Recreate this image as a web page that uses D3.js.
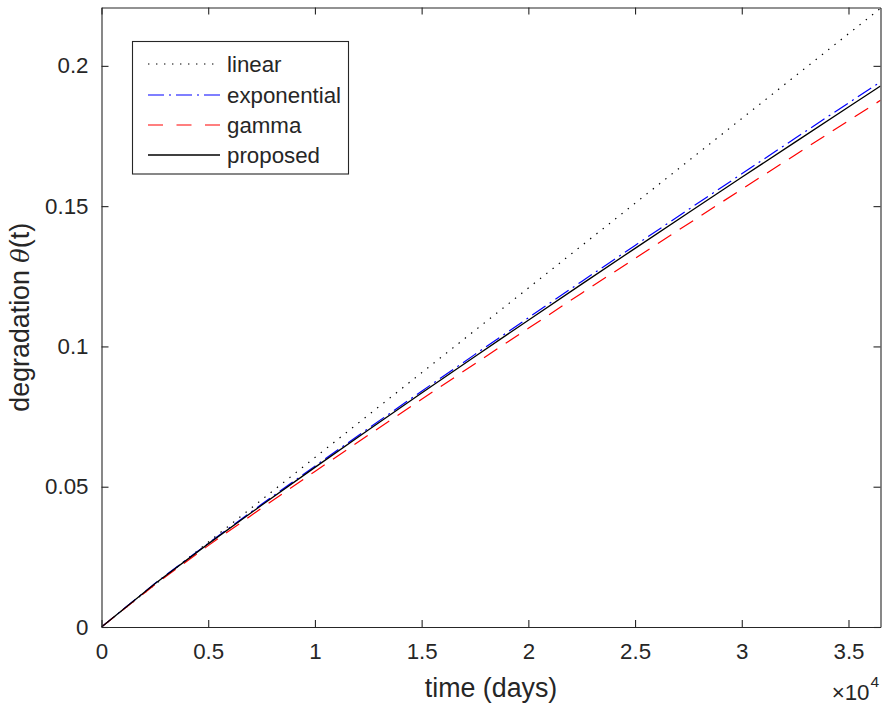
<!DOCTYPE html>
<html>
<head>
<meta charset="utf-8">
<script src="https://cdn.jsdelivr.net/npm/d3@7"></script>
<style>
  html, body { margin: 0; padding: 0; background: #fff; }
  svg { display: block; font-family: "Liberation Sans", Arial, Helvetica, sans-serif; }
</style>
</head>
<body>
<svg id="chart" width="883" height="706"></svg>
<script>
// time in days
const days = [0, 2500, 5000, 7500, 10000, 12500, 15000, 17500, 20000, 22500, 25000, 27500, 30000, 32500, 35000, 36500];

// degradation theta(t) for each model
const linearVals      = [0, 0.01510, 0.03021, 0.04531, 0.06041, 0.07551, 0.09062, 0.10572, 0.12082, 0.13592, 0.15103, 0.16613, 0.18123, 0.19634, 0.21144, 0.2205];
const exponentialVals = [0, 0.01552, 0.02985, 0.04372, 0.05734, 0.07077, 0.08404, 0.09717, 0.11021, 0.12317, 0.13601, 0.14880, 0.16152, 0.17418, 0.18677, 0.1943];
const gammaVals       = [0, 0.01510, 0.02900, 0.04237, 0.05545, 0.06838, 0.08117, 0.09386, 0.10645, 0.11898, 0.13138, 0.14374, 0.15603, 0.16826, 0.18042, 0.1877];
const proposedVals    = [0, 0.01540, 0.02962, 0.04338, 0.05690, 0.07022, 0.08339, 0.09642, 0.10936, 0.12222, 0.13496, 0.14765, 0.16027, 0.17283, 0.18532, 0.1928];

const seriesNames = ["linear", "exponential", "gamma", "proposed"];

const xTicks = [0, 5000, 10000, 15000, 20000, 25000, 30000, 35000];
const xTickLabels = ["0", "0.5", "1", "1.5", "2", "2.5", "3", "3.5"];
const yTicks = [0, 0.05, 0.1, 0.15, 0.2];
const yTickLabels = ["0", "0.05", "0.1", "0.15", "0.2"];

const styles = {
  linear:      { color: "#000000", dash: "1.4 6.6",  legendDash: "1.4 6.6",  width: 1.2 },
  exponential: { color: "#0000ff", dash: "16 5 2 5", legendDash: "16 5 2 5", width: 1.2 },
  gamma:       { color: "#ff0000", dash: "16 10",    legendDash: "15 13.5",  width: 1.2 },
  proposed:    { color: "#000000", dash: null,       legendDash: null,       width: 1.3 }
};
const valuesByName = {
  linear: linearVals, exponential: exponentialVals, gamma: gammaVals, proposed: proposedVals
};

const margin = { left: 101.5, right: 2.5, top: 7.5, bottom: 79 };
const W = 883, H = 706;
const iw = W - margin.left - margin.right;
const ih = H - margin.top - margin.bottom;

const svg = d3.select("#chart");
const g = svg.append("g").attr("transform", `translate(${margin.left},${margin.top})`);

const x = d3.scaleLinear().domain([0, 36500]).range([0, iw]);
const y = d3.scaleLinear().domain([0, 0.2208]).range([ih, 0]);

const axisColor = "#262626";
const tickFont = "22.3px";
const labelFont = "26.8px";

// clip for the plotted lines
svg.append("defs").append("clipPath").attr("id", "plotClip")
  .append("rect").attr("width", iw).attr("height", ih);

const line = d3.line().x((d, i) => x(days[i])).y(d => y(d));

const lines = g.append("g").attr("clip-path", "url(#plotClip)");
seriesNames.forEach(name => {
  const s = styles[name];
  lines.append("path")
    .datum(valuesByName[name])
    .attr("d", line)
    .attr("fill", "none")
    .attr("stroke", s.color)
    .attr("stroke-width", s.width)
    .attr("stroke-dasharray", s.dash);
});

// axes: bottom/left with labels, top/right ticks only (boxed)
function styleAxis(sel) {
  sel.select(".domain").attr("stroke", axisColor).attr("stroke-width", 1.1);
  sel.selectAll(".tick line").attr("stroke", axisColor).attr("stroke-width", 1.1);
  sel.selectAll(".tick text").attr("fill", axisColor).style("font-size", tickFont)
     .style("font-family", "'Liberation Sans', Arial, sans-serif");
}

const xAxis = g.append("g").attr("transform", `translate(0,${ih})`)
  .call(d3.axisBottom(x).tickValues(xTicks).tickFormat((d, i) => xTickLabels[i]).tickSizeInner(-7).tickSizeOuter(0).tickPadding(16));
styleAxis(xAxis);

const xAxisTop = g.append("g")
  .call(d3.axisTop(x).tickValues(xTicks).tickFormat("").tickSizeInner(-7).tickSizeOuter(0));
styleAxis(xAxisTop);

const yAxis = g.append("g")
  .call(d3.axisLeft(y).tickValues(yTicks).tickFormat((d, i) => yTickLabels[i]).tickSizeInner(-7).tickSizeOuter(0).tickPadding(13));
styleAxis(yAxis);

const yAxisRight = g.append("g").attr("transform", `translate(${iw},0)`)
  .call(d3.axisRight(y).tickValues(yTicks).tickFormat("").tickSizeInner(-7).tickSizeOuter(0));
styleAxis(yAxisRight);

// axis labels
g.append("text")
  .attr("x", iw / 2).attr("y", ih + 70)
  .attr("text-anchor", "middle")
  .attr("fill", axisColor)
  .style("font-size", labelFont)
  .text("time (days)");

const yl = g.append("text")
  .attr("transform", `translate(${-72.5},${ih / 2}) rotate(-90)`)
  .attr("text-anchor", "middle")
  .attr("fill", axisColor)
  .style("font-size", labelFont);
yl.append("tspan").text("degradation ");
yl.append("tspan").style("font-style", "italic").style("font-family", "'DejaVu Serif', serif").style("font-size", "24px").text("θ");
yl.append("tspan").text("(t)");

// exponent marker
g.append("text")
  .attr("x", iw - 11).attr("y", ih + 73)
  .attr("text-anchor", "end")
  .attr("fill", axisColor)
  .style("font-size", "22.3px")
  .text("×10");
g.append("text")
  .attr("x", iw - 10).attr("y", ih + 60)
  .attr("fill", axisColor)
  .style("font-size", "15.5px")
  .text("4");

// legend
const leg = svg.append("g");
leg.append("rect")
  .attr("x", 132.5).attr("y", 41.5).attr("width", 216).attr("height", 132.5)
  .attr("fill", "#fff").attr("stroke", axisColor).attr("stroke-width", 1.1);
const rowsY = [64, 95, 125, 155];
seriesNames.forEach((name, i) => {
  const s = styles[name];
  leg.append("line")
    .attr("x1", 148).attr("x2", 220)
    .attr("y1", rowsY[i]).attr("y2", rowsY[i])
    .attr("stroke", s.color).attr("stroke-width", s.width)
    .attr("stroke-dasharray", s.legendDash);
  leg.append("text")
    .attr("x", 227).attr("y", rowsY[i])
    .attr("dy", "0.35em")
    .attr("fill", axisColor)
    .style("font-size", "22.3px")
    .text(name);
});
</script>
</body>
</html>
